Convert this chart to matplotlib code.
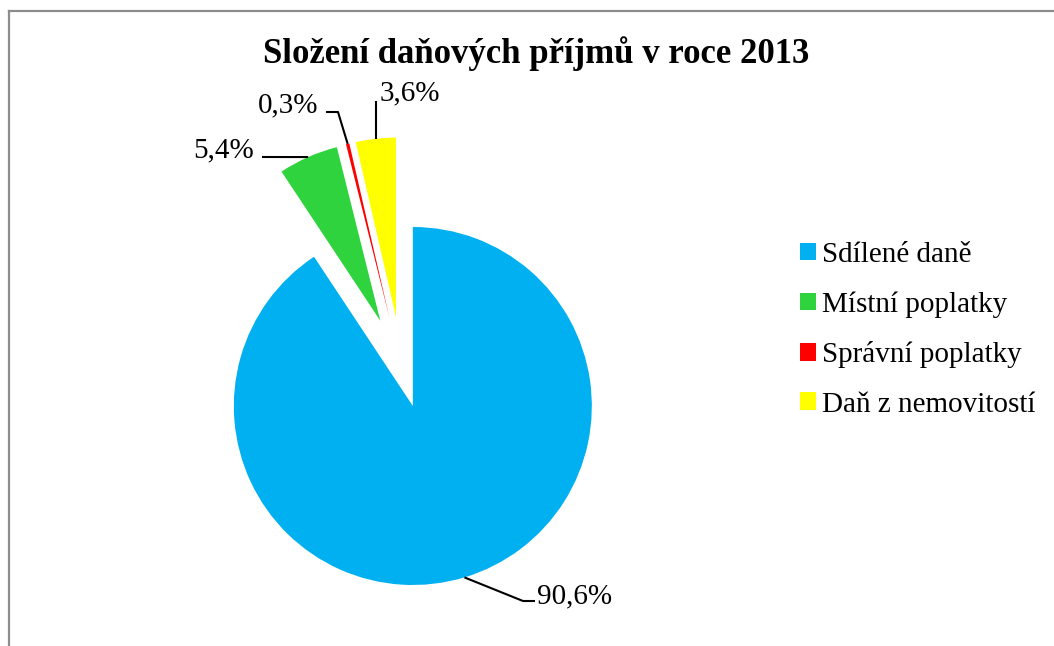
import numpy as np
import matplotlib
matplotlib.use("Agg")
import matplotlib.pyplot as plt
from matplotlib.patches import Patch
from matplotlib.lines import Line2D

plt.rcParams['font.family'] = ['Liberation Serif', 'DejaVu Serif']

title = "Složení daňových příjmů v roce 2013"
categories = ["Sdílené daně", "Místní poplatky", "Správní poplatky", "Daň z nemovitostí"]
values = [90.6, 5.4, 0.3, 3.6]
value_labels = ["90,6%", "5,4%", "0,3%", "3,6%"]
colors = ["#00B0F0", "#2ED33E", "#FF0000", "#FFFF00"]
explode = [0.21, 0.3, 0.3, 0.3]

W, H = 1054, 646
fig = plt.figure(figsize=(W / 100, H / 100), dpi=100)
ax = fig.add_axes([0, 0, 1, 1])
R = 179.0
cx, cy = 402.0, 370.0  # pie centre in pixels (from top-left)


def set_lims():
    ax.set_xlim(-cx / R, (W - cx) / R)
    ax.set_ylim(-(H - cy) / R, cy / R)


set_lims()
ax.axis('off')

wedges, _ = ax.pie(values, startangle=90, counterclock=False, explode=explode,
                   colors=colors, radius=1.0, center=(0, 0),
                   wedgeprops=dict(linewidth=0), frame=False)
set_lims()


def anchor(w):
    mid = np.deg2rad((w.theta1 + w.theta2) / 2)
    c = w.center
    return c[0] + w.r * np.cos(mid), c[1] + w.r * np.sin(mid)


def px(x, y):
    return (x - cx) / R, (cy - y) / R


fs_lab = 21
lc = dict(color='black', lw=1.5, solid_capstyle='butt')

# 90,6%
ax_, ay_ = anchor(wedges[0])
e = px(523, 601); t = px(535, 601)
ax.plot([ax_, e[0], t[0]], [ay_, e[1], t[1]], **lc)
tx, ty = px(537, 603)
ax.text(tx, ty, value_labels[0], ha='left', va='baseline', fontsize=fs_lab)

# 5,4%
ax_, ay_ = anchor(wedges[1])
t = px(262, 157)
ax.plot([ax_, t[0]], [ay_, t[1]], **lc)
tx, ty = px(254, 157)
ax.text(tx, ty, value_labels[1], ha='right', va='baseline', fontsize=fs_lab)

# 0,3%
ax_, ay_ = anchor(wedges[2])
e = px(338, 112); t = px(326, 112)
ax.plot([ax_, e[0], t[0]], [ay_, e[1], t[1]], **lc)
tx, ty = px(318, 112)
ax.text(tx, ty, value_labels[2], ha='right', va='baseline', fontsize=fs_lab)

# 3,6%
ax_, ay_ = anchor(wedges[3])
top = px(0, 101)[1]
ax.plot([ax_, ax_], [ay_, top], **lc)
tx, ty = px(0, 100)
ax.text(ax_ + 4 / R, ty, value_labels[3], ha='left', va='baseline', fontsize=fs_lab)

fig.text(536 / W, 1 - 63 / H, title, ha='center', va='baseline',
         fontsize=25, fontweight='bold')

handles = [Patch(facecolor=c, edgecolor='none') for c in colors]
fig.legend(handles, categories, loc='upper left',
           bbox_to_anchor=(800 / W, 1 - 242 / H), frameon=False,
           fontsize=21, handlelength=0.55, handleheight=0.55,
           handletextpad=0.2, labelspacing=0.8, borderpad=0, borderaxespad=0)

# chart border (partially visible)
fig.add_artist(Line2D([8.5 / W, 1], [1 - 10.5 / H, 1 - 10.5 / H],
                      transform=fig.transFigure, color='#8c8c8c', lw=1.6))
fig.add_artist(Line2D([8.5 / W, 8.5 / W], [0, 1 - 10.5 / H],
                      transform=fig.transFigure, color='#8c8c8c', lw=1.6))

fig.savefig('out.png', dpi=100, facecolor='white')
